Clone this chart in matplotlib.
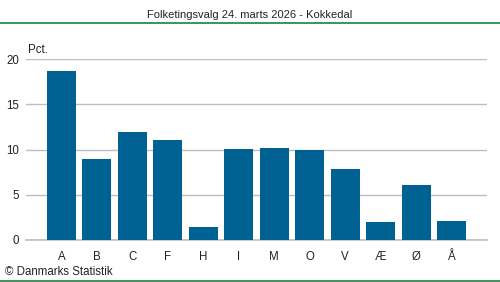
import matplotlib
matplotlib.use("Agg")
import matplotlib.pyplot as plt
from matplotlib.lines import Line2D

parties = ["A", "B", "C", "F", "H", "I", "M", "O", "V", "Æ", "Ø", "Å"]
shares = [18.7, 8.9, 11.9, 11.1, 1.4, 10.1, 10.2, 9.9, 7.9, 2.0, 6.1, 2.1]
yticks = [0, 5, 10, 15, 20]
title = "Folketingsvalg 24. marts 2026 - Kokkedal"

plt.rcParams["font.family"] = ["Liberation Sans", "DejaVu Sans"]

W, H = 500, 282
fig = plt.figure(figsize=(W / 100, H / 100), dpi=100)
ax = fig.add_axes([26 / W, 1 - 239.8 / H, (487 - 26) / W, (239.8 - 59.3) / H])

ax.bar(range(len(parties)), shares, width=0.82, color="#006292", zorder=3)
ax.set_xlim(-1, 12)
ax.set_ylim(0, 20)
ax.set_yticks(yticks)
ax.set_xticks(range(len(parties)))
ax.set_xticklabels(parties)
ax.yaxis.grid(True, color="#bdbdbd", linewidth=1, zorder=0)
ax.axhline(0, color="#bdbdbd", linewidth=1.2, zorder=2, clip_on=False)
for s in ax.spines.values():
    s.set_visible(False)
ax.tick_params(axis="both", length=0, labelsize=8.3, colors="#222222")
ax.tick_params(axis="x", pad=8)
ax.tick_params(axis="y", pad=5)

fig.text(28 / W, 1 - 50 / H, "Pct.", fontsize=8.3, color="#222222", va="center", ha="left")
fig.text(250 / W, 1 - 15 / H, title, fontsize=8, color="#222222", ha="center", va="center")
fig.text(5 / W, 1 - 272 / H, "© Danmarks Statistik", fontsize=8.3, color="#222222", ha="left", va="center")

green = "#1b8040"
fig.add_artist(Line2D([0, 1], [1 - 22.5 / H, 1 - 22.5 / H], color=green, linewidth=1.2, transform=fig.transFigure))
fig.add_artist(Line2D([0, 1], [1 - 281 / H, 1 - 281 / H], color=green, linewidth=1.2, transform=fig.transFigure))

fig.savefig("out.png", dpi=100)
